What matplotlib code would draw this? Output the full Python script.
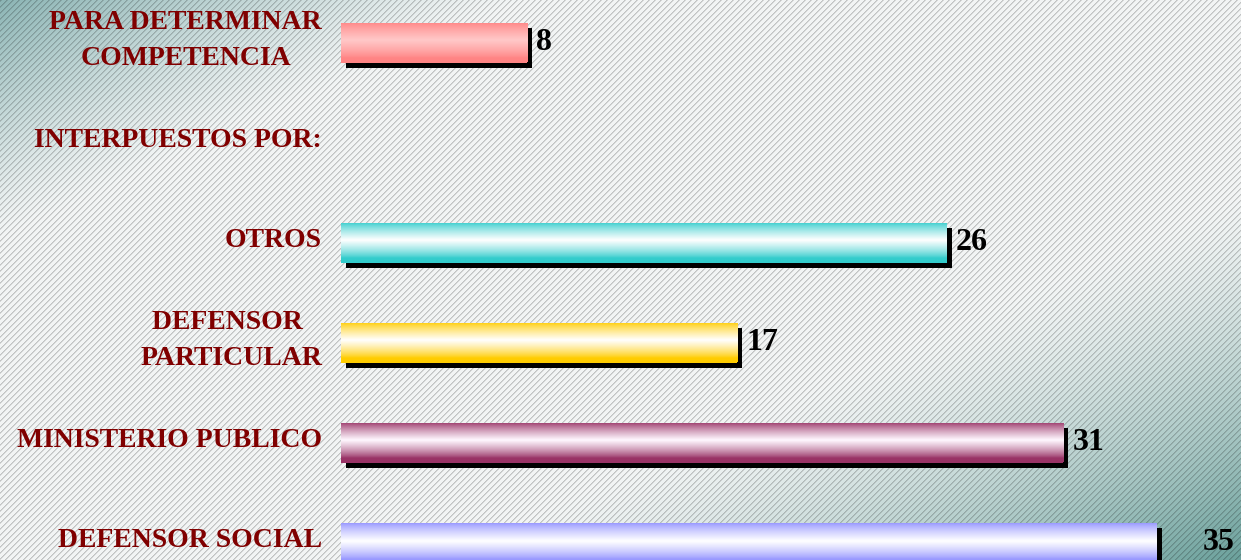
import numpy as np
import matplotlib
matplotlib.use("Agg")
import matplotlib.pyplot as plt
import matplotlib.transforms as mtransforms

# ---- data ----
categories = ["PARA DETERMINAR\nCOMPETENCIA", "INTERPUESTOS POR:", "OTROS",
              "DEFENSOR \nPARTICULAR", "MINISTERIO PUBLICO", "DEFENSOR SOCIAL"]
values = [8, None, 26, 17, 31, 35]
edge_colors = ["#FF8484", None, "#33CCCC", "#FFCC00", "#993366", "#9999FF"]
mid_colors = ["#FFC8C8", None, "#FFFFFF", "#FFFFFF", "#FFF8FF", "#FFFFFF"]

W, H = 1241, 560
PX = 23.3          # pixels per value unit
X0 = 341           # pixel position of value 0
ROW0 = 42.5        # pixel centre of first row
ROWSTEP = 100.0

fig = plt.figure(figsize=(W / 100, H / 100), dpi=100)

# ---- background: diagonal teal gradient with stripes ----
bg = fig.add_axes([0, 0, 1, 1])
bg.set_axis_off()
yy, xx = np.mgrid[0:H, 0:W]
t = xx / W + yy / H
base = np.array([0.95, 0.96, 0.96])
teal_tl = np.array([0.55, 0.71, 0.71])
teal_br = np.array([0.42, 0.63, 0.61])
w1 = np.clip((0.42 - t) / 0.42, 0, 1)[..., None] ** 1.2
w2 = np.clip((t - 1.35) / 0.65, 0, 1)[..., None] ** 1.3
img = base * (1 - w1 - w2) + teal_tl * w1 + teal_br * w2
stripe = (((xx + yy) % 6) < 2) & (((xx - yy) % 2) == 0)
stripe2 = (((xx + yy) % 6) < 2)
img = img * np.where(stripe, 0.80, np.where(stripe2, 0.88, 1.0))[..., None]
bg.imshow(np.clip(img, 0, 1), extent=[0, 1, 0, 1], aspect="auto",
          interpolation="nearest", transform=bg.transAxes)
bg.set_xlim(0, 1)
bg.set_ylim(0, 1)

# ---- main axes ----
ax = fig.add_axes([0, 0, 1, 1])
ax.set_axis_off()
ax.patch.set_alpha(0)
ax.set_xlim(-X0 / PX, (W - X0) / PX)
ax.set_ylim((H - ROW0) / ROWSTEP, -ROW0 / ROWSTEP)

pos = np.arange(len(categories))
bar_h = 0.40
shadow_tr = ax.transData + mtransforms.ScaledTranslation(5 / 100, -5 / 100, fig.dpi_scale_trans)

serif = ["Liberation Serif", "DejaVu Serif"]
vmax = max(v for v in values if v is not None)

for i, (cat, v) in enumerate(zip(categories, values)):
    ax.text(-19 / PX, pos[i] - 0.02, cat, ha="right", va="center", multialignment="center",
            fontsize=20, fontweight="bold", color="#800000", family=serif,
            linespacing=1.55)
    if v is None:
        continue
    # shadow
    ax.barh(pos[i], v, height=bar_h, color="black", transform=shadow_tr, zorder=2)
    # bar with vertical gradient
    bar = ax.barh(pos[i], v, height=bar_h, color=edge_colors[i], zorder=3)[0]
    c_edge = np.array(matplotlib.colors.to_rgb(edge_colors[i]))
    c_mid = np.array(matplotlib.colors.to_rgb(mid_colors[i]))
    s = np.linspace(-1, 1, 100)
    k = np.clip(1 - np.abs(s + 0.1) / 0.9, 0, 1) ** 0.8
    grad = c_edge[None, :] * (1 - k[:, None]) + c_mid[None, :] * k[:, None]
    grad = np.repeat(grad[:, None, :], 2, axis=1)
    im = ax.imshow(grad, extent=[0, v, pos[i] + bar_h / 2, pos[i] - bar_h / 2],
                   aspect="auto", interpolation="bilinear", zorder=4)
    im.set_clip_path(bar)
    # value label
    if v == vmax:
        ax.text((W - X0 - 6) / PX, pos[i], str(v), ha="right", va="center",
                fontsize=23, fontweight="bold", color="black", family=serif, zorder=5)
    else:
        ax.text(v + 9 / PX, pos[i], str(v), ha="left", va="center",
                fontsize=23, fontweight="bold", color="black", family=serif, zorder=5)

ax.set_xlim(-X0 / PX, (W - X0) / PX)
ax.set_ylim((H - ROW0) / ROWSTEP, -ROW0 / ROWSTEP)

fig.savefig("out.png", dpi=100)
